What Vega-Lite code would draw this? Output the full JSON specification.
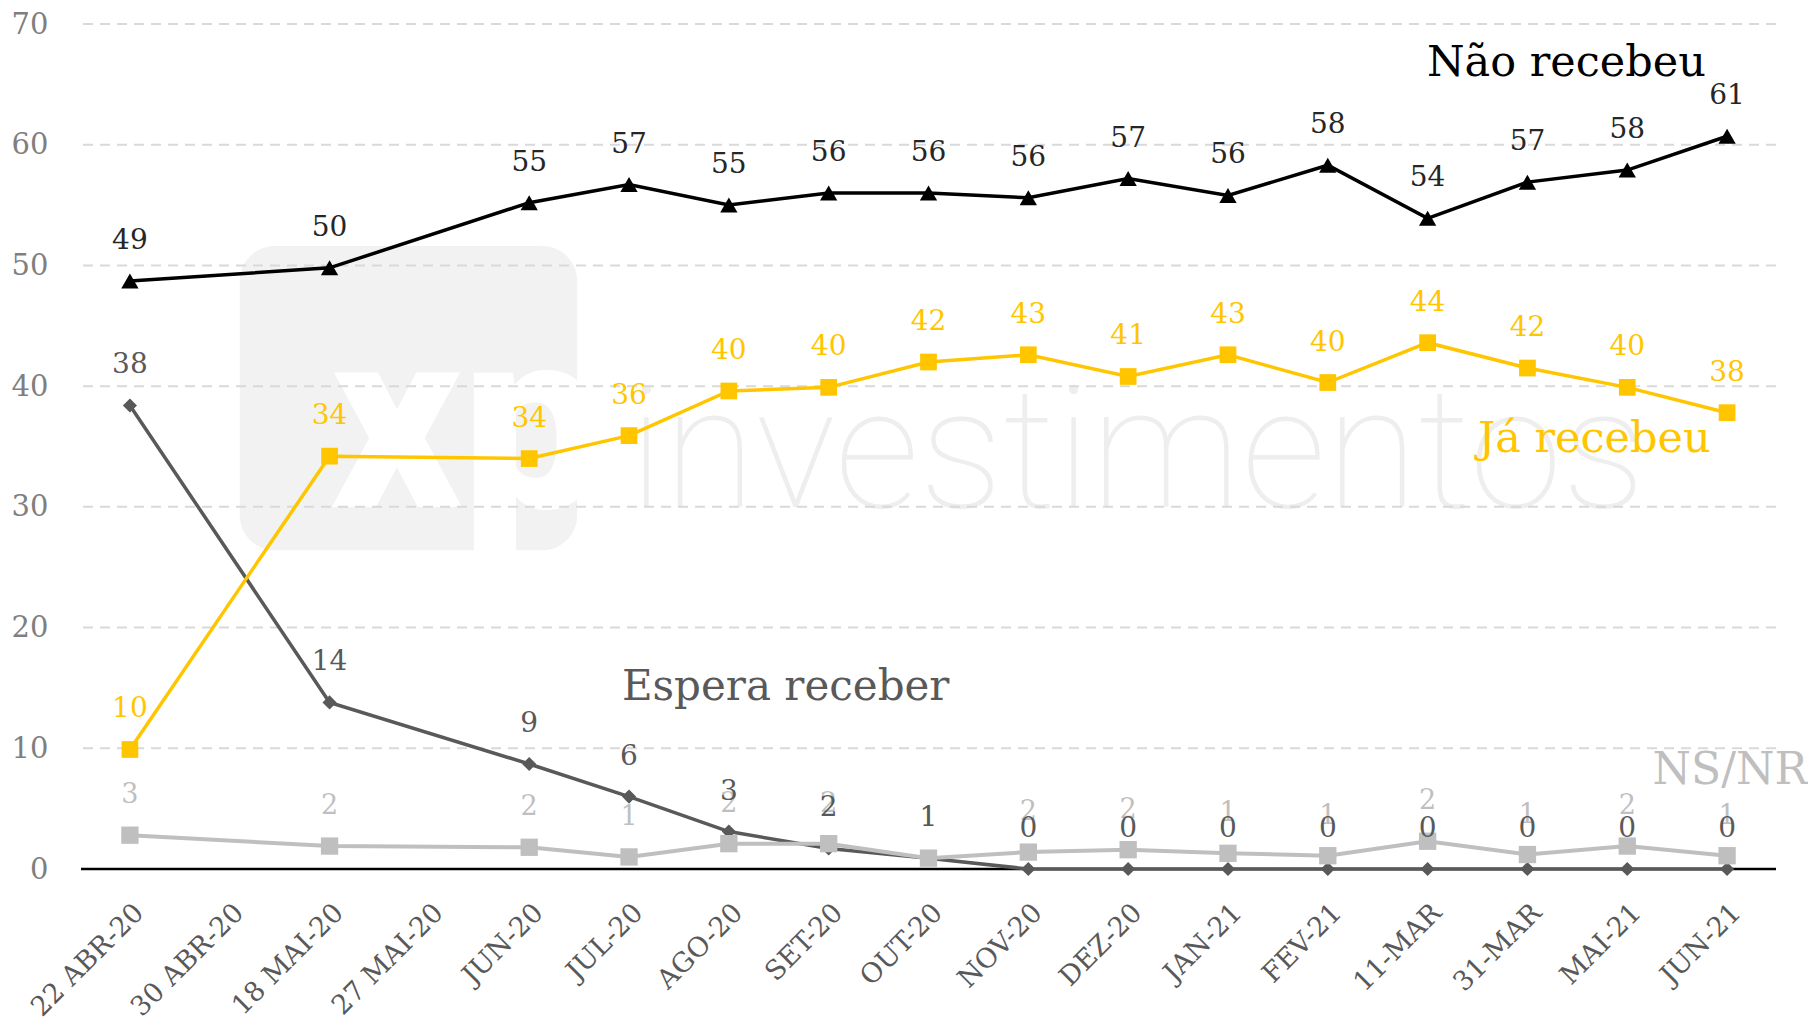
{
  "$schema": "https://vega.github.io/schema/vega-lite/v6.json",
  "width": 1695,
  "height": 845,
  "autosize": {"type": "none"},
  "padding": {"left": 81, "top": 24, "right": 32, "bottom": 158},
  "background": "white",
  "config": {
    "view": {"stroke": null},
    "font": "DejaVu Serif",
    "axisX": {"labelAngle": -45, "labelFontSize": 27, "labelColor": "#595959", "labelFont": "DejaVu Serif", "domain": false, "ticks": false, "grid": false, "labelPadding": 30},
    "axisY": {"tickCount": 7, "labelFontSize": 29, "labelColor": "#7F7F7F", "labelFont": "DejaVu Serif", "labelPadding": 33, "domain": false, "ticks": false, "grid": false}
  },
  "datasets": {
    "pesquisa": [
      {"data": "22 ABR-20", "nao": 48.7, "ja": 9.9, "espera": 38.4, "nsnr": 2.8, "nao_r": 49, "ja_r": 10, "espera_r": 38, "nsnr_r": 3},
      {"data": "18 MAI-20", "nao": 49.8, "ja": 34.2, "espera": 13.8, "nsnr": 1.9, "nao_r": 50, "ja_r": 34, "espera_r": 14, "nsnr_r": 2},
      {"data": "JUN-20", "nao": 55.2, "ja": 34.0, "espera": 8.7, "nsnr": 1.8, "nao_r": 55, "ja_r": 34, "espera_r": 9, "nsnr_r": 2},
      {"data": "JUL-20", "nao": 56.7, "ja": 35.9, "espera": 6.0, "nsnr": 1.0, "nao_r": 57, "ja_r": 36, "espera_r": 6, "nsnr_r": 1},
      {"data": "AGO-20", "nao": 55.0, "ja": 39.6, "espera": 3.1, "nsnr": 2.1, "nao_r": 55, "ja_r": 40, "espera_r": 3, "nsnr_r": 2},
      {"data": "SET-20", "nao": 56.0, "ja": 39.9, "espera": 1.7, "nsnr": 2.1, "nao_r": 56, "ja_r": 40, "espera_r": 2, "nsnr_r": 2},
      {"data": "OUT-20", "nao": 56.0, "ja": 42.0, "espera": 0.9, "nsnr": 0.9, "nao_r": 56, "ja_r": 42, "espera_r": 1, "nsnr_r": 1},
      {"data": "NOV-20", "nao": 55.6, "ja": 42.6, "espera": 0, "nsnr": 1.4, "nao_r": 56, "ja_r": 43, "espera_r": 0, "nsnr_r": 2},
      {"data": "DEZ-20", "nao": 57.2, "ja": 40.8, "espera": 0, "nsnr": 1.6, "nao_r": 57, "ja_r": 41, "espera_r": 0, "nsnr_r": 2},
      {"data": "JAN-21", "nao": 55.8, "ja": 42.6, "espera": 0, "nsnr": 1.3, "nao_r": 56, "ja_r": 43, "espera_r": 0, "nsnr_r": 1},
      {"data": "FEV-21", "nao": 58.3, "ja": 40.3, "espera": 0, "nsnr": 1.1, "nao_r": 58, "ja_r": 40, "espera_r": 0, "nsnr_r": 1},
      {"data": "11-MAR", "nao": 53.9, "ja": 43.6, "espera": 0, "nsnr": 2.3, "nao_r": 54, "ja_r": 44, "espera_r": 0, "nsnr_r": 2},
      {"data": "31-MAR", "nao": 56.9, "ja": 41.5, "espera": 0, "nsnr": 1.2, "nao_r": 57, "ja_r": 42, "espera_r": 0, "nsnr_r": 1},
      {"data": "MAI-21", "nao": 57.9, "ja": 39.9, "espera": 0, "nsnr": 1.9, "nao_r": 58, "ja_r": 40, "espera_r": 0, "nsnr_r": 2},
      {"data": "JUN-21", "nao": 60.7, "ja": 37.8, "espera": 0, "nsnr": 1.1, "nao_r": 61, "ja_r": 38, "espera_r": 0, "nsnr_r": 1}
    ],
    "grade": [{"v": 10}, {"v": 20}, {"v": 30}, {"v": 40}, {"v": 50}, {"v": 60}, {"v": 70}]
  },
  "layer": [
    {
      "data": {"values": [{}]},
      "mark": {"type": "rect", "fill": "#F2F2F2", "cornerRadius": 35, "xOffset": 10, "x2Offset": 48},
      "encoding": {
        "x": {"datum": "30 ABR-20", "type": "ordinal", "title": null},
        "x2": {"datum": "JUN-20"},
        "y": {"datum": 51.6, "type": "quantitative", "title": null},
        "y2": {"datum": 26.4}
      }
    },
    {
      "data": {"values": [{}]},
      "mark": {"type": "text", "text": "xp", "font": "Roboto", "fontWeight": 900, "fontSize": 255, "color": "white", "align": "left", "baseline": "alphabetic", "dx": -99},
      "encoding": {
        "x": {"datum": "27 MAI-20", "type": "ordinal", "title": null},
        "y": {"datum": 30, "type": "quantitative", "title": null}
      }
    },
    {
      "data": {"values": [{}]},
      "mark": {"type": "text", "text": "investimentos", "font": "Roboto", "fontWeight": 100, "fontSize": 168, "color": "#EEEEEE", "align": "left", "baseline": "alphabetic", "dx": 0},
      "encoding": {
        "x": {"datum": "JUL-20", "type": "ordinal", "title": null},
        "y": {"datum": 30, "type": "quantitative", "title": null}
      }
    },
    {
      "data": {"name": "grade"},
      "mark": {"type": "rule", "color": "#D9D9D9", "strokeWidth": 2, "strokeDash": [10, 7]},
      "encoding": {
        "y": {"field": "v", "type": "quantitative", "title": null}
      }
    },
    {
      "data": {"values": [{}]},
      "mark": {"type": "rule", "color": "#000000", "strokeWidth": 2.5},
      "encoding": {
        "y": {"datum": 0, "type": "quantitative", "title": null}
      }
    },
    {
      "data": {"name": "pesquisa"},
      "encoding": {
        "x": {
          "field": "data", "type": "ordinal", "title": null,
          "scale": {"type": "point", "padding": 0.49, "domain": ["22 ABR-20", "30 ABR-20", "18 MAI-20", "27 MAI-20", "JUN-20", "JUL-20", "AGO-20", "SET-20", "OUT-20", "NOV-20", "DEZ-20", "JAN-21", "FEV-21", "11-MAR", "31-MAR", "MAI-21", "JUN-21"]}
        },
        "y": {
          "field": "espera", "type": "quantitative", "title": null,
          "scale": {"domain": [0, 70], "nice": false}
        }
      },
      "layer": [
        {"mark": {"type": "line", "color": "#595959", "strokeWidth": 3.5}},
        {"mark": {"type": "point", "shape": "diamond", "filled": true, "color": "#595959", "size": 200, "opacity": 1}}
      ]
    },
    {
      "data": {"name": "pesquisa"},
      "encoding": {
        "x": {"field": "data", "type": "ordinal", "title": null},
        "y": {"field": "nsnr", "type": "quantitative", "title": null}
      },
      "layer": [
        {"mark": {"type": "line", "color": "#BFBFBF", "strokeWidth": 4}},
        {"mark": {"type": "point", "shape": "square", "filled": true, "color": "#BFBFBF", "size": 300, "opacity": 1}}
      ]
    },
    {
      "data": {"name": "pesquisa"},
      "encoding": {
        "x": {"field": "data", "type": "ordinal", "title": null},
        "y": {"field": "ja", "type": "quantitative", "title": null}
      },
      "layer": [
        {"mark": {"type": "line", "color": "#FFC600", "strokeWidth": 3.5}},
        {"mark": {"type": "point", "shape": "square", "filled": true, "color": "#FFC600", "size": 280, "opacity": 1}}
      ]
    },
    {
      "data": {"name": "pesquisa"},
      "encoding": {
        "x": {"field": "data", "type": "ordinal", "title": null},
        "y": {"field": "nao", "type": "quantitative", "title": null}
      },
      "layer": [
        {"mark": {"type": "line", "color": "#000000", "strokeWidth": 3.5}},
        {"mark": {"type": "point", "shape": "triangle-up", "filled": true, "color": "#000000", "size": 300, "opacity": 1}}
      ]
    },
    {
      "data": {"name": "pesquisa"},
      "mark": {"type": "text", "color": "#BFBFBF", "fontSize": 27, "baseline": "middle", "dy": -40},
      "encoding": {
        "x": {"field": "data", "type": "ordinal", "title": null},
        "y": {"field": "nsnr", "type": "quantitative", "title": null},
        "text": {"field": "nsnr_r", "type": "nominal"}
      }
    },
    {
      "data": {"name": "pesquisa"},
      "mark": {"type": "text", "color": "#595959", "fontSize": 28, "baseline": "middle", "dy": -40},
      "encoding": {
        "x": {"field": "data", "type": "ordinal", "title": null},
        "y": {"field": "espera", "type": "quantitative", "title": null},
        "text": {"field": "espera_r", "type": "nominal"}
      }
    },
    {
      "data": {"name": "pesquisa"},
      "mark": {"type": "text", "color": "#FFC600", "fontSize": 28, "baseline": "middle", "dy": -40},
      "encoding": {
        "x": {"field": "data", "type": "ordinal", "title": null},
        "y": {"field": "ja", "type": "quantitative", "title": null},
        "text": {"field": "ja_r", "type": "nominal"}
      }
    },
    {
      "data": {"name": "pesquisa"},
      "mark": {"type": "text", "color": "#262626", "fontSize": 28, "baseline": "middle", "dy": -40},
      "encoding": {
        "x": {"field": "data", "type": "ordinal", "title": null},
        "y": {"field": "nao", "type": "quantitative", "title": null},
        "text": {"field": "nao_r", "type": "nominal"}
      }
    },
    {
      "data": {"values": [{}]},
      "mark": {"type": "text", "text": "Não recebeu", "color": "#000000", "fontSize": 43, "align": "center", "baseline": "middle", "dx": 39},
      "encoding": {
        "x": {"datum": "31-MAR", "type": "ordinal", "title": null},
        "y": {"datum": 66.8, "type": "quantitative", "title": null}
      }
    },
    {
      "data": {"values": [{}]},
      "mark": {"type": "text", "text": "Já recebeu", "color": "#FFC600", "fontSize": 43, "align": "center", "baseline": "middle", "dx": -33},
      "encoding": {
        "x": {"datum": "MAI-21", "type": "ordinal", "title": null},
        "y": {"datum": 35.6, "type": "quantitative", "title": null}
      }
    },
    {
      "data": {"values": [{}]},
      "mark": {"type": "text", "text": "Espera receber", "color": "#595959", "fontSize": 42, "align": "center", "baseline": "middle", "dx": -43},
      "encoding": {
        "x": {"datum": "SET-20", "type": "ordinal", "title": null},
        "y": {"datum": 15.1, "type": "quantitative", "title": null}
      }
    },
    {
      "data": {"values": [{}]},
      "mark": {"type": "text", "text": "NS/NR", "color": "#BFBFBF", "fontSize": 44, "align": "center", "baseline": "middle", "dx": 3},
      "encoding": {
        "x": {"datum": "JUN-21", "type": "ordinal", "title": null},
        "y": {"datum": 8.1, "type": "quantitative", "title": null}
      }
    }
  ]
}
